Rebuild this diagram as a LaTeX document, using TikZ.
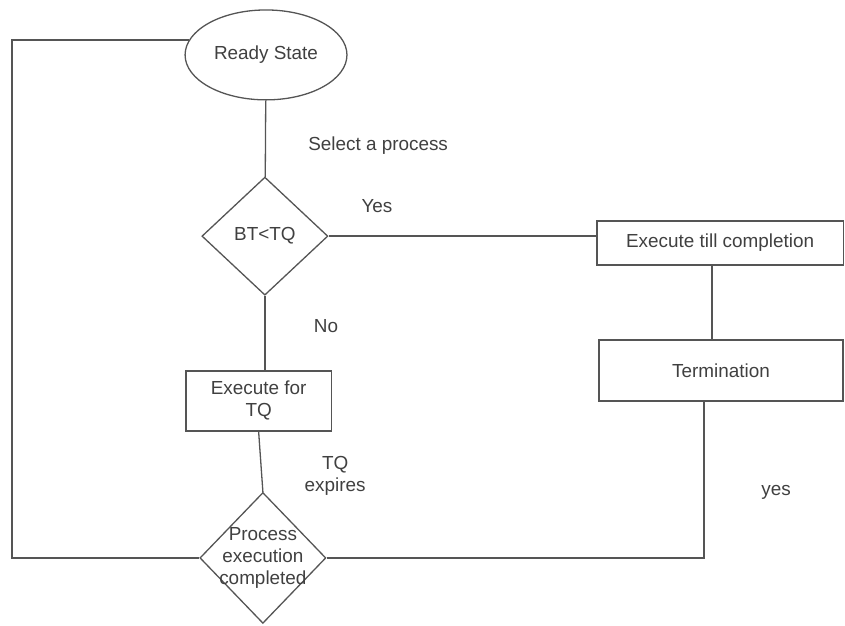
\documentclass[tikz,border=0pt]{standalone}
\usepackage{fontspec}
\setmainfont{Liberation Sans}
\usetikzlibrary{shapes.geometric}
\definecolor{linegray}{HTML}{555555}
\definecolor{textgray}{HTML}{404040}
\begin{document}
\begin{tikzpicture}[
	  every node/.style={font=\fontsize{18.9}{22}\selectfont,text=textgray,align=center},
	  line/.style={draw=linegray,line width=1.3pt},
	  state/.style={ellipse,line,inner sep=0pt,minimum width=5.69cm,minimum height=3.16cm},
	  decide/.style={diamond,line,inner sep=0pt,minimum width=4.43cm},
	  block/.style={rectangle,line,inner sep=0pt}]
	  \useasboundingbox (0,0) rectangle (29.70,-21.97);
	  \node[state] (ready) at (9.35,-1.93) {Ready State};
	  \node[decide,minimum height=4.15cm] (btq) at (9.31,-8.30) {BT<TQ};
	  \node[block,minimum width=8.65cm,minimum height=1.55cm] (full) at (25.31,-8.54) {Execute till completion};
	  \node[block,minimum width=8.58cm,minimum height=2.14cm] (term) at (25.34,-13.02) {Termination};
	  \node[block,minimum width=5.10cm,minimum height=2.11cm] (slice) at (9.09,-14.09) {Execute for\\TQ};
	  \node[decide,minimum height=4.60cm,label={[align=center]center:Process\\execution\\completed}] (done) at (9.24,-19.61) {};
	  \coordinate (left) at (0.42,-19.61);
	  \coordinate (right) at (24.74,-19.61);
	  \node (select) at (13.29,-5.13) {Select a process};
	  \node (yes1) at (13.25,-7.24) {Yes};
	  \node (no) at (11.46,-11.46) {No};
	  \node (expire) at (11.78,-16.73) {TQ\\expires};
	  \node (yes2) at (27.28,-17.29) {yes};
	  \draw[line] (ready) -- (btq);
	  \draw[line] (btq.east) -- (btq.east -| full.west);
	  \draw[line] ([xshift=-8pt]full.south) -- ([xshift=-8pt]full.south |- term.north);
	  \draw[line] (term.south -| right) -- (right) -- (done.east);
	  \draw[line] (btq.south) -- (btq.south |- slice.north);
	  \draw[line] (slice.south) -- (done.north);
	  \draw[line] (done.west) -- (left) |- (ready.169);
	\end{tikzpicture}
\end{document}
